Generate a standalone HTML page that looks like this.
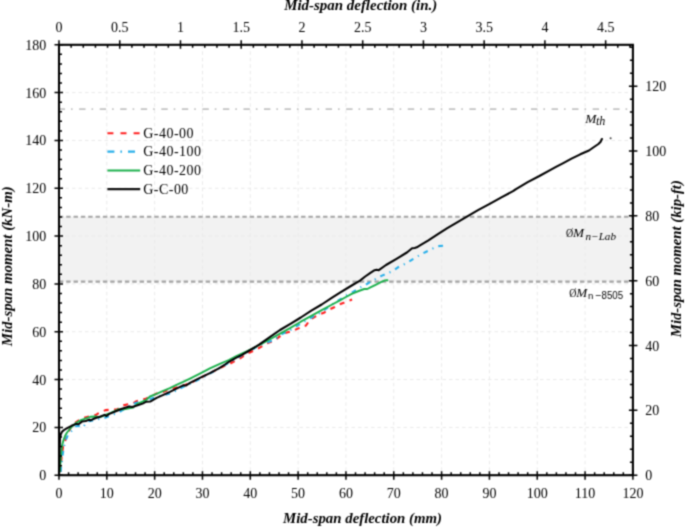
<!DOCTYPE html>
<html><head><meta charset="utf-8"><title>Mid-span moment vs deflection</title>
<style>html,body{margin:0;padding:0;background:#fff;}svg{display:block;}</style>
</head><body>
<svg width="685" height="528" viewBox="0 0 685 528"><defs><filter id="soft" filterUnits="userSpaceOnUse" x="0" y="0" width="685" height="528" color-interpolation-filters="sRGB"><feConvolveMatrix order="3" kernelMatrix="1 3 1 3 9 3 1 3 1" edgeMode="duplicate"/></filter></defs><g filter="url(#soft)"><rect x="0" y="0" width="685" height="528" fill="#fff"/>
<rect x="59.0" y="216.7" width="573.9" height="64.90000000000003" fill="#f2f2f2"/>
<path d="M59.0 427.38H632.9 M59.0 379.56H632.9 M59.0 331.73H632.9 M59.0 283.91H632.9 M59.0 236.09H632.9 M59.0 188.27H632.9 M59.0 140.45H632.9 M59.0 92.62H632.9 M106.82 44.80200000000002V475.2 M154.65 44.80200000000002V475.2 M202.47 44.80200000000002V475.2 M250.30 44.80200000000002V475.2 M298.12 44.80200000000002V475.2 M345.95 44.80200000000002V475.2 M393.77 44.80200000000002V475.2 M441.60 44.80200000000002V475.2 M489.42 44.80200000000002V475.2 M537.25 44.80200000000002V475.2 M585.07 44.80200000000002V475.2" stroke="#eaeaea" stroke-width="1" stroke-dasharray="3.5 3" fill="none"/>
<path d="M58.6 109.2H627.5" stroke="#c4c4c4" stroke-width="1.7" stroke-dasharray="6.4 6 1.6 6.54" fill="none"/>
<path d="M58.86 216.7H632.9M58.86 281.6H632.9" stroke="#a4a4a4" stroke-width="2.1" stroke-dasharray="4.4 2.94" fill="none"/>
<path d="M60.5 472.0 L61.5 458.0 L63.0 447.0 L65.8 439.0 L68.0 433.0 L71.0 427.0 L74.3 423.4 L78.0 421.0 L82.8 418.2 L89.4 416.3 L96.1 414.9 L98.0 413.5 L105.5 410.1 L112.2 409.7 L116.9 409.6 L122.7 405.5 L127.0 404.5 L132.7 403.5 L136.5 401.2 L140.7 400.3 L146.4 398.4 L149.7 397.0 L157.3 393.2 L160.6 392.7 L168.0 390.0 L177.7 387.3 L185.0 385.0 L193.8 381.4 L202.0 377.0 L211.8 372.2 L221.5 367.2 L230.7 363.2 L240.0 358.3 L248.0 353.2 L257.0 349.2 L266.8 343.5 L275.3 340.1 L283.1 333.6 L293.0 330.8 L302.9 326.4 L306.0 325.5 L309.7 320.1 L314.4 317.0 L319.6 314.4 L323.8 312.8 L329.0 309.7 L334.2 307.3 L338.9 304.5 L343.8 302.7 L347.7 301.0 L352.1 299.6" stroke="#ff2020" stroke-width="2.1" stroke-dasharray="5 5.5" fill="none" stroke-linejoin="round"/>
<path d="M60.6 472.0 L62.0 460.0 L63.4 449.7 L65.0 442.0 L68.7 433.0 L71.5 431.0 L75.7 426.2 L80.0 426.0 L82.8 427.3 L87.6 421.5 L95.0 420.0 L103.6 418.2 L118.8 412.5 L126.0 408.0 L134.1 403.6 L150.0 399.0 L160.0 396.0 L169.1 393.7 L173.8 391.8 L185.0 386.0 L201.3 378.3 L217.4 369.3 L230.0 362.0 L245.0 353.5 L260.0 345.0 L273.9 340.1 L282.0 334.0 L290.4 330.0 L304.0 321.7 L320.0 313.0 L335.0 302.5 L347.0 295.1 L351.7 292.8 L356.6 289.9 L362.2 286.2 L366.9 284.0 L372.0 281.1 L376.7 278.5 L381.4 275.9 L388.6 272.8 L393.3 270.7 L398.0 267.3 L402.7 265.0 L407.4 262.7 L412.6 259.3 L417.3 256.5 L422.0 253.9 L427.2 251.2 L433.0 248.4 L437.8 246.2 L443.3 245.7" stroke="#2bb0ea" stroke-width="2.1" stroke-dasharray="4.8 5.2 1.2 5.2" fill="none" stroke-linejoin="round"/>
<path d="M59.8 472.0 L60.5 462.0 L61.3 452.0 L62.2 445.0 L63.5 440.0 L65.0 436.0 L67.0 432.5 L69.5 429.5 L72.0 426.5 L76.0 423.0 L80.9 420.1 L90.4 416.8 L95.0 416.5 L99.9 417.2 L104.0 415.5 L109.3 413.5 L118.8 409.2 L123.7 409.4 L133.1 407.6 L136.9 404.1 L146.4 399.8 L150.0 396.5 L156.6 393.9 L163.3 390.9 L169.9 388.2 L176.5 384.9 L183.2 381.9 L190.0 378.6 L200.4 373.4 L209.9 368.4 L219.3 364.1 L228.8 360.0 L236.4 356.0 L247.7 350.9 L259.1 345.2 L270.5 339.0 L280.0 333.6 L290.4 327.9 L300.8 321.7 L311.3 315.9 L321.7 310.2 L332.1 304.5 L340.0 300.3 L345.0 297.5 L351.7 293.9 L358.7 291.0 L364.2 289.0 L367.3 289.0 L370.4 287.4 L375.6 284.8 L380.8 282.2 L385.0 280.4 L387.1 280.1 L388.1 280.8" stroke="#1cb04c" stroke-width="1.9" fill="none" stroke-linejoin="round"/>
<path d="M59.2 473.0 L59.4 460.0 L59.6 450.0 L60.0 438.0 L60.8 434.3 L62.0 431.8 L64.0 430.0 L66.7 428.3 L71.5 425.8 L76.2 423.9 L78.6 424.2 L81.9 421.6 L85.7 421.0 L89.4 419.6 L90.4 420.4 L95.1 418.2 L99.9 416.8 L104.6 414.9 L106.5 416.0 L109.3 413.9 L114.0 412.0 L122.0 408.7 L129.4 406.4 L132.2 406.9 L136.9 405.5 L142.6 403.6 L146.4 401.7 L150.2 401.6 L156.6 397.9 L163.3 394.9 L169.9 391.9 L176.5 388.6 L183.2 385.3 L185.8 385.6 L190.0 382.9 L200.4 377.6 L209.9 373.1 L219.3 368.2 L225.0 364.5 L228.8 361.8 L236.4 357.7 L242.0 354.9 L247.7 351.5 L259.1 344.7 L270.5 336.7 L280.0 330.0 L290.4 323.8 L300.8 317.5 L311.3 310.7 L321.7 304.5 L332.1 297.7 L340.0 292.6 L351.7 285.5 L360.0 280.6 L365.2 276.5 L370.4 272.8 L374.6 270.2 L376.7 269.7 L378.8 270.2 L386.0 265.0 L396.5 258.8 L406.9 252.5 L412.1 248.3 L414.7 247.9 L416.8 247.3 L420.0 245.4 L428.4 240.3 L437.9 234.2 L447.3 228.2 L455.0 223.7 L465.2 217.7 L478.0 210.2 L489.7 203.8 L501.4 197.3 L513.0 191.2 L516.0 189.1 L527.7 182.1 L539.4 176.0 L551.0 169.6 L556.0 166.9 L562.8 163.4 L571.5 158.7 L580.3 154.3 L589.0 150.5 L594.0 147.0 L598.4 144.0 L600.7 141.7 L601.9 139.0" stroke="#000" stroke-width="2.05" fill="none" stroke-linejoin="round" stroke-linecap="round"/>
<circle cx="610.6" cy="138.2" r="1" fill="#444"/>
<rect x="59.0" y="44.80200000000002" width="573.9" height="430.39799999999997" fill="none" stroke="#000" stroke-width="2.1"/>
<path d="M54.5 475.20H63.0 M59.0 465.64H62.0 M59.0 456.07H62.0 M59.0 446.51H62.0 M59.0 436.94H62.0 M54.5 427.38H63.0 M59.0 417.81H62.0 M59.0 408.25H62.0 M59.0 398.68H62.0 M59.0 389.12H62.0 M54.5 379.56H63.0 M59.0 369.99H62.0 M59.0 360.43H62.0 M59.0 350.86H62.0 M59.0 341.30H62.0 M54.5 331.73H63.0 M59.0 322.17H62.0 M59.0 312.61H62.0 M59.0 303.04H62.0 M59.0 293.48H62.0 M54.5 283.91H63.0 M59.0 274.35H62.0 M59.0 264.78H62.0 M59.0 255.22H62.0 M59.0 245.65H62.0 M54.5 236.09H63.0 M59.0 226.53H62.0 M59.0 216.96H62.0 M59.0 207.40H62.0 M59.0 197.83H62.0 M54.5 188.27H63.0 M59.0 178.70H62.0 M59.0 169.14H62.0 M59.0 159.57H62.0 M59.0 150.01H62.0 M54.5 140.45H63.0 M59.0 130.88H62.0 M59.0 121.32H62.0 M59.0 111.75H62.0 M59.0 102.19H62.0 M54.5 92.62H63.0 M59.0 83.06H62.0 M59.0 73.50H62.0 M59.0 63.93H62.0 M59.0 54.37H62.0 M54.5 44.80H63.0 M628.9 475.20H637.4 M629.9 462.23H632.9 M629.9 449.26H632.9 M629.9 436.30H632.9 M629.9 423.33H632.9 M628.9 410.36H637.4 M629.9 397.39H632.9 M629.9 384.43H632.9 M629.9 371.46H632.9 M629.9 358.49H632.9 M628.9 345.52H637.4 M629.9 332.56H632.9 M629.9 319.59H632.9 M629.9 306.62H632.9 M629.9 293.65H632.9 M628.9 280.69H637.4 M629.9 267.72H632.9 M629.9 254.75H632.9 M629.9 241.78H632.9 M629.9 228.82H632.9 M628.9 215.85H637.4 M629.9 202.88H632.9 M629.9 189.91H632.9 M629.9 176.95H632.9 M629.9 163.98H632.9 M628.9 151.01H637.4 M629.9 138.04H632.9 M629.9 125.08H632.9 M629.9 112.11H632.9 M629.9 99.14H632.9 M628.9 86.17H637.4 M629.9 73.20H632.9 M629.9 60.24H632.9 M629.9 47.27H632.9 M59.00 471.2V479.7 M68.56 472.2V475.2 M78.13 472.2V475.2 M87.69 472.2V475.2 M97.26 472.2V475.2 M106.82 471.2V479.7 M116.39 472.2V475.2 M125.95 472.2V475.2 M135.52 472.2V475.2 M145.08 472.2V475.2 M154.65 471.2V479.7 M164.21 472.2V475.2 M173.78 472.2V475.2 M183.34 472.2V475.2 M192.91 472.2V475.2 M202.47 471.2V479.7 M212.04 472.2V475.2 M221.60 472.2V475.2 M231.17 472.2V475.2 M240.73 472.2V475.2 M250.30 471.2V479.7 M259.87 472.2V475.2 M269.43 472.2V475.2 M279.00 472.2V475.2 M288.56 472.2V475.2 M298.12 471.2V479.7 M307.69 472.2V475.2 M317.25 472.2V475.2 M326.82 472.2V475.2 M336.38 472.2V475.2 M345.95 471.2V479.7 M355.51 472.2V475.2 M365.08 472.2V475.2 M374.64 472.2V475.2 M384.21 472.2V475.2 M393.77 471.2V479.7 M403.34 472.2V475.2 M412.90 472.2V475.2 M422.47 472.2V475.2 M432.03 472.2V475.2 M441.60 471.2V479.7 M451.16 472.2V475.2 M460.73 472.2V475.2 M470.29 472.2V475.2 M479.86 472.2V475.2 M489.42 471.2V479.7 M498.99 472.2V475.2 M508.55 472.2V475.2 M518.12 472.2V475.2 M527.68 472.2V475.2 M537.25 471.2V479.7 M546.82 472.2V475.2 M556.38 472.2V475.2 M565.94 472.2V475.2 M575.51 472.2V475.2 M585.07 471.2V479.7 M594.64 472.2V475.2 M604.20 472.2V475.2 M613.77 472.2V475.2 M623.33 472.2V475.2 M632.90 471.2V479.7 M59.00 40.30200000000002V48.80200000000002 M71.15 44.80200000000002V47.80200000000002 M83.30 44.80200000000002V47.80200000000002 M95.44 44.80200000000002V47.80200000000002 M107.59 44.80200000000002V47.80200000000002 M119.74 40.30200000000002V48.80200000000002 M131.89 44.80200000000002V47.80200000000002 M144.03 44.80200000000002V47.80200000000002 M156.18 44.80200000000002V47.80200000000002 M168.33 44.80200000000002V47.80200000000002 M180.48 40.30200000000002V48.80200000000002 M192.62 44.80200000000002V47.80200000000002 M204.77 44.80200000000002V47.80200000000002 M216.92 44.80200000000002V47.80200000000002 M229.07 44.80200000000002V47.80200000000002 M241.21 40.30200000000002V48.80200000000002 M253.36 44.80200000000002V47.80200000000002 M265.51 44.80200000000002V47.80200000000002 M277.66 44.80200000000002V47.80200000000002 M289.80 44.80200000000002V47.80200000000002 M301.95 40.30200000000002V48.80200000000002 M314.10 44.80200000000002V47.80200000000002 M326.25 44.80200000000002V47.80200000000002 M338.39 44.80200000000002V47.80200000000002 M350.54 44.80200000000002V47.80200000000002 M362.69 40.30200000000002V48.80200000000002 M374.84 44.80200000000002V47.80200000000002 M386.98 44.80200000000002V47.80200000000002 M399.13 44.80200000000002V47.80200000000002 M411.28 44.80200000000002V47.80200000000002 M423.43 40.30200000000002V48.80200000000002 M435.57 44.80200000000002V47.80200000000002 M447.72 44.80200000000002V47.80200000000002 M459.87 44.80200000000002V47.80200000000002 M472.02 44.80200000000002V47.80200000000002 M484.16 40.30200000000002V48.80200000000002 M496.31 44.80200000000002V47.80200000000002 M508.46 44.80200000000002V47.80200000000002 M520.61 44.80200000000002V47.80200000000002 M532.75 44.80200000000002V47.80200000000002 M544.90 40.30200000000002V48.80200000000002 M557.05 44.80200000000002V47.80200000000002 M569.20 44.80200000000002V47.80200000000002 M581.34 44.80200000000002V47.80200000000002 M593.49 44.80200000000002V47.80200000000002 M605.64 40.30200000000002V48.80200000000002 M617.79 44.80200000000002V47.80200000000002 M629.93 44.80200000000002V47.80200000000002" stroke="#000" stroke-width="1.5" fill="none"/>
<g font-family="Liberation Serif, serif" font-size="14" fill="#000"><text x="46.3" y="480.20" text-anchor="end">0</text><text x="46.3" y="432.38" text-anchor="end">20</text><text x="46.3" y="384.56" text-anchor="end">40</text><text x="46.3" y="336.73" text-anchor="end">60</text><text x="46.3" y="288.91" text-anchor="end">80</text><text x="46.3" y="241.09" text-anchor="end">100</text><text x="46.3" y="193.27" text-anchor="end">120</text><text x="46.3" y="145.45" text-anchor="end">140</text><text x="46.3" y="97.62" text-anchor="end">160</text><text x="46.3" y="49.80" text-anchor="end">180</text><text x="645.3" y="480.20">0</text><text x="645.3" y="415.36">20</text><text x="645.3" y="350.52">40</text><text x="645.3" y="285.69">60</text><text x="645.3" y="220.85">80</text><text x="645.3" y="156.01">100</text><text x="645.3" y="91.17">120</text><text x="59.00" y="497.6" text-anchor="middle">0</text><text x="106.82" y="497.6" text-anchor="middle">10</text><text x="154.65" y="497.6" text-anchor="middle">20</text><text x="202.47" y="497.6" text-anchor="middle">30</text><text x="250.30" y="497.6" text-anchor="middle">40</text><text x="298.12" y="497.6" text-anchor="middle">50</text><text x="345.95" y="497.6" text-anchor="middle">60</text><text x="393.77" y="497.6" text-anchor="middle">70</text><text x="441.60" y="497.6" text-anchor="middle">80</text><text x="489.42" y="497.6" text-anchor="middle">90</text><text x="537.25" y="497.6" text-anchor="middle">100</text><text x="585.07" y="497.6" text-anchor="middle">110</text><text x="632.90" y="497.6" text-anchor="middle">120</text><text x="59.00" y="31.8" text-anchor="middle">0</text><text x="119.74" y="31.8" text-anchor="middle">0.5</text><text x="180.48" y="31.8" text-anchor="middle">1</text><text x="241.21" y="31.8" text-anchor="middle">1.5</text><text x="301.95" y="31.8" text-anchor="middle">2</text><text x="362.69" y="31.8" text-anchor="middle">2.5</text><text x="423.43" y="31.8" text-anchor="middle">3</text><text x="484.16" y="31.8" text-anchor="middle">3.5</text><text x="544.90" y="31.8" text-anchor="middle">4</text><text x="605.64" y="31.8" text-anchor="middle">4.5</text></g>
<path d="M107.4 133.3H140.2" stroke="#ff2020" stroke-width="2.1" stroke-dasharray="6 7.1"/>
<text x="143.2" y="137.7" font-family="Liberation Serif, serif" font-size="14" letter-spacing="0.48">G-40-00</text>
<path d="M107.4 151.7H140.2" stroke="#2bb0ea" stroke-width="2.2" stroke-dasharray="7 6 1.6 6"/>
<text x="143.2" y="156.1" font-family="Liberation Serif, serif" font-size="14" letter-spacing="0.48">G-40-100</text>
<path d="M107.4 170.5H140.2" stroke="#1cb04c" stroke-width="2.0"/>
<text x="143.2" y="174.9" font-family="Liberation Serif, serif" font-size="14" letter-spacing="0.48">G-40-200</text>
<path d="M107.4 189.1H140.2" stroke="#111" stroke-width="2.2"/>
<text x="143.2" y="193.5" font-family="Liberation Serif, serif" font-size="14" letter-spacing="0.48">G-C-00</text>
<text x="283" y="522.7" font-family="Liberation Serif, serif" font-size="14" font-weight="bold" font-style="italic" lengthAdjust="spacingAndGlyphs" textLength="159">Mid-span deflection (mm)</text>
<text x="284.2" y="10.3" font-family="Liberation Serif, serif" font-size="14" font-weight="bold" font-style="italic" lengthAdjust="spacingAndGlyphs" textLength="153">Mid-span deflection (in.)</text>
<text transform="translate(12 346.3) rotate(-90)" font-family="Liberation Serif, serif" font-size="14" font-weight="bold" font-style="italic" lengthAdjust="spacingAndGlyphs" textLength="160">Mid-span moment (kN-m)</text>
<text transform="translate(681.3 337.2) rotate(-90)" font-family="Liberation Serif, serif" font-size="14" font-weight="bold" font-style="italic" lengthAdjust="spacingAndGlyphs" textLength="157">Mid-span moment (kip-ft)</text>
<text x="585.2" y="123" font-family="Liberation Serif, serif" font-size="13.4" font-style="italic">M</text>
<text x="596" y="125.2" font-family="Liberation Serif, serif" font-size="11.5" font-style="italic" textLength="9.4" lengthAdjust="spacingAndGlyphs">th</text>
<text x="566" y="237.3" font-family="Liberation Serif, serif" font-size="13" textLength="7.2" lengthAdjust="spacingAndGlyphs">Ø</text>
<text x="573" y="237.3" font-family="Liberation Serif, serif" font-size="13" font-style="italic" textLength="11" lengthAdjust="spacingAndGlyphs">M</text>
<text x="585.6" y="240.4" font-family="Liberation Serif, serif" font-size="11.3" font-style="italic" textLength="30.4" lengthAdjust="spacingAndGlyphs">n−Lab</text>
<text x="569.2" y="297" font-family="Liberation Serif, serif" font-size="13" textLength="7.2" lengthAdjust="spacingAndGlyphs">Ø</text>
<text x="576.2" y="297" font-family="Liberation Serif, serif" font-size="13" font-style="italic" textLength="11" lengthAdjust="spacingAndGlyphs">M</text>
<text x="588.1" y="299.3" font-family="Liberation Sans, sans-serif" font-size="9.6">n</text>
<text x="594.9" y="299.3" font-family="Liberation Sans, sans-serif" font-size="10.5">−</text>
<text x="601.5" y="299.3" font-family="Liberation Sans, sans-serif" font-size="10.4" textLength="21.6" lengthAdjust="spacingAndGlyphs">8505</text></g></svg>
</body></html>
